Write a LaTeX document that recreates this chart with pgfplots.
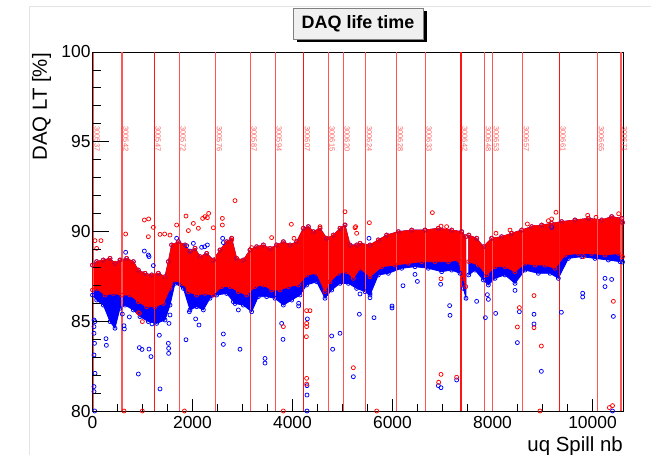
\documentclass[border=0pt]{standalone}
\usepackage{pgfplots}
\pgfplotsset{compat=1.18}
\usepackage{fontspec}
\setmainfont{Liberation Sans}
\definecolor{runline}{RGB}{255,85,85}
\definecolor{runlinedark}{RGB}{255,20,20}
\definecolor{runtext}{RGB}{255,95,95}
\definecolor{titlefill}{RGB}{240,240,240}
\definecolor{pageedge}{RGB}{228,228,228}
\newcommand{\runlabel}[2]{\node[rotate=-90, anchor=south west, inner sep=0pt, text=runtext, font=\fontsize{7.4}{7.4}\selectfont] at (axis cs:#1+20,95.85) {#2};}
\begin{document}
\begin{tikzpicture}
\useasboundingbox (0,0) rectangle (651bp,455bp);
\draw[pageedge, line width=0.8bp] (29bp,0) -- (29bp,449bp) -- (651bp,449bp);
\begin{axis}[
  at={(92.5bp,44bp)}, anchor=south west,
  scale only axis, width=530.5bp, height=359bp,
  xmin=0, xmax=10610, ymin=80, ymax=100,
  clip=false,
  axis line style={black, line width=0.9bp},
  xtick={0,2000,...,10000}, minor x tick num=3,
  ytick={80,85,...,100}, minor y tick num=4,
  scaled x ticks=false, scaled y ticks=false,
  tick align=inside, xtick pos=bottom, ytick pos=left,
  major tick length=11.7bp, minor tick length=6.5bp,
  tick style={black, line width=0.8bp},
  /pgf/number format/assume math mode=true,
  /pgf/number format/1000 sep={},
  ticklabel style={font=\fontsize{17.5}{17.5}\selectfont},
  xticklabel style={anchor=north, inner sep=0pt, yshift=-5.5bp},
  yticklabel style={anchor=east, inner sep=0pt, xshift=-1.8bp},
  xlabel={uq Spill nb}, ylabel={DAQ LT [\%]},
  label style={font=\fontsize{20.5}{20.5}\selectfont},
  xlabel style={at={(axis description cs:1,-0.1134)}, anchor=base east, inner sep=0pt},
  ylabel style={at={(axis description cs:-0.0961,0.997)}, anchor=east, inner sep=0pt, rotate=0},
  every axis plot/.append style={mark options={line width=0.75bp}},
]
% blue band, segment 1
\addplot[fill=blue, draw=blue, line width=0.8bp, mark=o, mark size=2bp] coordinates {
(0,88.13)(83,88.32)(217,88.41)(350,88.5)(450,88.23)(550,88.41)(683,88.5)(817,88.32)(917,87.85)(1050,87.67)(1183,87.58)(1317,87.67)(1450,87.48)(1517,88.32)(1583,89.25)(1717,89.43)(1850,89.25)(1950,88.88)(2050,89.06)(2150,88.6)(2283,88.78)(2417,88.41)(2550,88.97)(2683,89.43)(2783,89.62)(2883,88.5)(3017,88.41)(3150,88.97)(3283,89.15)(3417,89.25)(3550,89.06)(3683,89.25)(3817,89.43)(3950,89.25)(4083,89.43)(4217,90.18)(4317,90.27)(4417,89.99)(4550,90.18)(4683,89.62)(4817,89.80)(4950,90.18)(5050,90.36)(5150,89.25)(5283,89.25)(5350,89.34)(5550,89.25)(5717,89.53)(5883,89.80)(6117,89.99)(6383,90.08)(6650,90.08)(6917,90.18)(7183,90.08)(7383,89.99)(7465,89.71)
(7470,86.28)(7417,86.83)(7350,87.67)(7183,87.85)(6983,87.76)(6717,87.95)(6450,88.04)(6183,87.95)(5917,87.67)(5717,87.58)(5550,86.46)(5450,86.65)(5283,86.83)(5117,87.11)(4950,87.11)(4783,86.74)(4650,86.28)(4483,87.20)(4283,87.02)(4150,86.46)(3983,86.18)(3817,85.90)(3650,86.28)(3483,86.37)(3317,86.37)(3183,85.53)(3017,85.90)(2850,85.99)(2683,86.55)(2483,86.46)(2350,86.28)(2217,85.63)(2083,85.81)(1950,85.63)(1817,86.83)(1650,87.11)(1550,85.90)(1450,85.07)(1283,84.88)(1117,84.98)(950,85.26)(817,85.63)(650,85.90)(550,85.72)(450,84.61)(350,84.98)(217,85.90)(83,86.18)(0,86.46)
} -- cycle;
% blue band, segment 2
\addplot[fill=blue, draw=blue, line width=0.8bp, mark=o, mark size=2bp] coordinates {
(7525,89.80)(7683,89.62)(7817,89.15)(7983,89.62)(8183,89.71)(8383,89.90)(8583,90.08)(8783,90.27)(8983,90.36)(9183,90.45)(9383,90.55)(9650,90.64)(9917,90.73)(10183,90.64)(10383,90.83)(10583,90.73)(10600,90.5)
(10600,88.3)(10550,88.32)(10317,88.41)(10050,88.50)(9783,88.60)(9517,88.50)(9317,87.39)(9150,87.67)(8917,87.67)(8650,87.85)(8450,87.11)(8250,87.58)(8050,87.39)(7917,87.02)(7817,87.30)(7650,87.85)(7525,87.58)
} -- cycle;
% blue outliers
\addplot[only marks, mark=o, mark size=2bp, blue] coordinates {
(663,88.84)(1037,88.91)(1117,88.69)(1130,88.60)(1217,88.10)(1683,89.62)(1883,89.21)(1950,88.91)(2017,89.34)(2183,89.12)(2243,89.15)(2297,89.25)(2603,89.62)(2617,89.38)(2817,86.09)(2950,86.09)(2917,85.63)(1937,85.53)(2063,85.13)(2130,84.79)(1550,85.35)(1530,84.88)(50,84.98)(5350,86.52)(30,85.07)(30,84.70)(30,84.33)(40,83.77)(30,83.12)(50,82.10)(30,81.36)(30,81.08)(270,84.03)(277,83.66)(597,85.40)(630,84.75)(637,84.57)(737,85.24)(917,82.06)(937,83.53)(990,83.43)(1130,83.45)(1170,83.03)(1190,84.85)(1337,84.22)(1350,81.23)(1517,83.77)(1523,83.49)(1523,83.21)(1870,83.97)(2617,84.29)(2617,83.71)(2950,83.44)(3450,82.93)(3450,82.67)(3783,84.88)(3810,83.99)(4123,86.00)(4123,85.85)(4297,85.13)(4290,81.41)(4290,80.89)(4783,84.18)(4803,83.44)(4950,84.33)(5337,85.39)(5217,81.91)(5550,86.56)(5550,86.31)(5630,85.20)(5990,85.85)(5990,85.74)(6210,86.98)(6450,87.61)(6497,87.22)(6963,87.06)(7143,85.87)(7150,85.33)(6917,81.41)(6970,81.30)(7283,81.73)(7683,86.11)(7857,85.20)(7897,86.48)(7917,86.22)(8063,85.44)(8450,86.72)(8497,83.81)(8537,85.53)(8830,85.39)(8830,84.85)(8977,82.21)(9377,85.50)(9803,86.56)(9803,86.35)(10250,87.39)(10250,86.93)(10383,87.33)(10417,85.27)(44,80)(4290,80)(10400,80)(5530,89.62)(9183,90.23)
};
% red band, segment 1
\addplot[fill=red, draw=red, line width=0.8bp, mark=o, mark size=2bp] coordinates {
(0,88.13)(83,88.32)(217,88.41)(350,88.5)(450,88.23)(550,88.41)(683,88.5)(817,88.32)(917,87.85)(1050,87.67)(1183,87.58)(1317,87.67)(1450,87.48)(1517,88.32)(1583,89.25)(1717,89.43)(1850,89.25)(1950,88.88)(2050,89.06)(2150,88.6)(2283,88.78)(2417,88.41)(2550,88.97)(2683,89.43)(2783,89.62)(2883,88.5)(3017,88.41)(3150,88.97)(3283,89.15)(3417,89.25)(3550,89.06)(3683,89.25)(3817,89.43)(3950,89.25)(4083,89.43)(4217,90.18)(4317,90.27)(4417,89.99)(4550,90.18)(4683,89.62)(4817,89.80)(4950,90.18)(5050,90.36)(5150,89.25)(5283,89.25)(5350,89.34)(5550,89.25)(5717,89.53)(5883,89.80)(6117,89.99)(6383,90.08)(6650,90.08)(6917,90.18)(7183,90.08)(7383,89.99)(7465,89.71)
(7465,86.93)(7417,87.39)(7317,88.41)(7117,88.32)(6850,88.32)(6583,88.32)(6317,88.23)(6050,88.13)(5783,88.04)(5550,87.48)(5350,87.95)(5217,87.39)(5083,87.76)(4917,87.67)(4750,87.20)(4650,86.65)(4483,87.67)(4283,87.58)(4117,87.02)(3917,86.93)(3750,86.74)(3583,86.74)(3417,87.02)(3250,86.93)(3083,86.46)(2917,86.65)(2750,86.93)(2583,86.93)(2417,86.46)(2250,86.55)(2083,86.46)(1917,86.65)(1783,87.11)(1650,87.30)(1550,86.83)(1417,85.99)(1250,85.81)(1083,85.81)(917,86.09)(750,86.46)(583,86.46)(417,86.55)(250,86.46)(83,86.83)(0,86.74)
} -- cycle;
% red band, segment 2
\addplot[fill=red, draw=red, line width=0.8bp, mark=o, mark size=2bp] coordinates {
(7525,89.80)(7683,89.62)(7817,89.15)(7983,89.62)(8183,89.71)(8383,89.90)(8583,90.08)(8783,90.27)(8983,90.36)(9183,90.45)(9383,90.55)(9650,90.64)(9917,90.73)(10183,90.64)(10383,90.83)(10583,90.73)(10600,90.5)
(10600,88.6)(10517,88.78)(10250,88.69)(9983,88.78)(9717,88.78)(9450,88.69)(9250,87.95)(9050,88.13)(8850,88.13)(8650,88.23)(8450,87.76)(8250,88.04)(8050,88.04)(7883,87.58)(7717,88.13)(7525,88.32)
} -- cycle;
% red outliers
\addplot[only marks, mark=o, mark size=2bp, red] coordinates {
(2850,91.72)(1037,90.64)(1123,90.70)(663,89.86)(1217,90.23)(1117,89.71)(1350,89.84)(1443,89.86)(1683,90.36)(1870,90.86)(2017,90.45)(1917,90.05)(2117,90.18)(2203,90.73)(2250,90.83)(2297,90.77)(2323,91.01)(2597,90.73)(2597,90.36)(2417,90.21)(3183,89.10)(3583,89.66)(3977,90.40)(4030,89.62)(4550,90.27)(4817,89.71)(5283,89.9)(1550,89.8)(2783,89.53)(5050,91.10)(5263,90.27)(170,89.49)(50,89.49)(83,89.06)(997,84.98)(917,85.48)(937,85.44)(3817,84.70)(4283,85.59)(4350,85.59)(4283,84.88)(4283,84.70)(4277,84.14)(4283,81.82)(4283,81.50)(5217,82.41)(5537,90.49)(6797,91.05)(6970,82.04)(6923,81.60)(7283,81.88)(6970,87.37)(8830,86.43)(8537,85.76)(8497,84.68)(8830,84.64)(8977,83.62)(10417,86.11)(9270,91.07)(9903,90.90)(10070,90.79)(10523,90.99)(9817,88.60)(10337,80.19)(630,80)(996,80)(1838,80)(3816,80)(5684,80)(8950,80)(10400,80.3)(8697,90.42)(8850,90.23)(9117,90.6)(9183,90.7)(8350,90.08)(8070,89.9)(6970,90.3)(7083,90.27)(5250,90.21)
};
% run boundaries
\pgfplotsset{every axis plot/.append style={mark=none}}
\addplot[runline, line width=1.5bp] coordinates {(18,80)(18,100)};
\addplot[runline, line width=1.5bp] coordinates {(590,80)(590,100)};
\addplot[runlinedark, line width=1.5bp] coordinates {(1236,80)(1236,100)};
\addplot[runline, line width=1.5bp] coordinates {(1736,80)(1736,100)};
\addplot[runline, line width=1.5bp] coordinates {(2464,80)(2464,100)};
\addplot[runline, line width=1.5bp] coordinates {(3156,80)(3156,100)};
\addplot[runline, line width=1.5bp] coordinates {(3656,80)(3656,100)};
\addplot[runlinedark, line width=1.5bp] coordinates {(4224,80)(4224,100)};
\addplot[runline, line width=1.5bp] coordinates {(4716,80)(4716,100)};
\addplot[runline, line width=1.5bp] coordinates {(5016,80)(5016,100)};
\addplot[runline, line width=1.5bp] coordinates {(5460,80)(5460,100)};
\addplot[runline, line width=1.5bp] coordinates {(6084,80)(6084,100)};
\addplot[runline, line width=1.5bp] coordinates {(6656,80)(6656,100)};
\addplot[runlinedark, line width=1.5bp] coordinates {(7370,80)(7370,100)};
\addplot[runline, line width=1.5bp] coordinates {(7844,80)(7844,100)};
\addplot[runline, line width=1.5bp] coordinates {(8004,80)(8004,100)};
\addplot[runline, line width=1.5bp] coordinates {(8604,80)(8604,100)};
\addplot[runlinedark, line width=1.5bp] coordinates {(9336,80)(9336,100)};
\addplot[runline, line width=1.5bp] coordinates {(10104,80)(10104,100)};
\addplot[runline, line width=1.5bp] coordinates {(10565,80)(10565,100)};
\runlabel{18}{300537}
\runlabel{590}{300542}
\runlabel{1236}{300547}
\runlabel{1736}{300572}
\runlabel{2464}{300576}
\runlabel{3156}{300587}
\runlabel{3656}{300594}
\runlabel{4224}{300607}
\runlabel{4716}{300615}
\runlabel{5016}{300620}
\runlabel{5460}{300624}
\runlabel{6084}{300628}
\runlabel{6656}{300633}
\runlabel{7370}{300642}
\runlabel{7844}{300648}
\runlabel{8004}{300653}
\runlabel{8604}{300657}
\runlabel{9336}{300661}
\runlabel{10104}{300665}
\runlabel{10565}{300671}
\end{axis}
% longer y ticks (ROOT style)
\begin{axis}[
  at={(92.5bp,44bp)}, anchor=south west,
  scale only axis, width=530.5bp, height=359bp,
  xmin=0, xmax=10610, ymin=80, ymax=100,
  axis line style={draw=none},
  xtick=\empty, ytick={80,85,...,100}, minor y tick num=4, yticklabels={},
  tick align=inside, ytick pos=left,
  major tick length=16.7bp, minor tick length=8.3bp,
  tick style={black, line width=0.8bp},
]
\end{axis}
% title box
\fill[black] (296.5bp,412.5bp) rectangle (426.5bp,443.5bp);
\filldraw[fill=titlefill, draw=gray, line width=0.6bp] (293bp,416bp) rectangle (423bp,447bp);
\node[font=\fontsize{18}{18}\selectfont\bfseries] at (358bp,431.5bp) {DAQ life time};
\end{tikzpicture}
\end{document}
